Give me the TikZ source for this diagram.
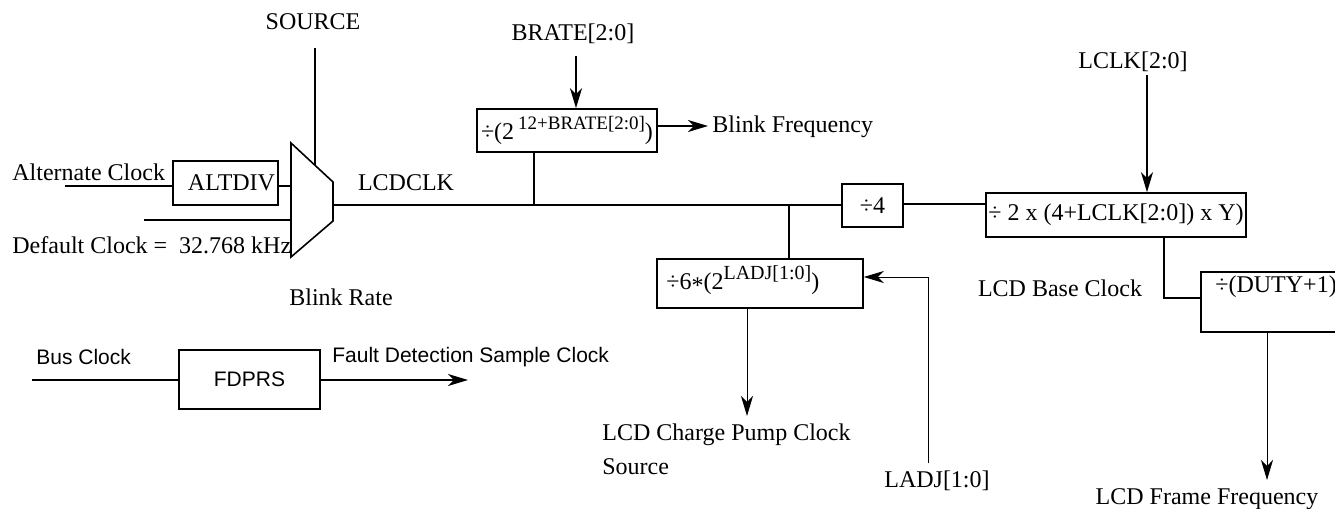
\documentclass[tikz,border=0pt]{standalone}
\usepackage{fontspec}
\setmainfont{Liberation Serif}
\newfontfamily\sansf{Liberation Sans}
\usetikzlibrary{arrows.meta}
\begin{document}
\begin{tikzpicture}[x=0.5pt,y=-0.5pt,
  every node/.style={font=\fontsize{12}{14}\selectfont, inner sep=0pt},
  wire/.style={line width=0.8pt},
  thinwire/.style={line width=0.5pt},
  arr/.style={-{Stealth[length=10pt,width=6pt,inset=3pt]}},
  blk/.style={draw, line width=0.8pt},
  sanstxt/.style={font=\sansf\fontsize{10.5}{12}\selectfont}]
\useasboundingbox (0,0) rectangle (1335,509);

% mux
\draw[wire] (291,143) -- (333,182) -- (333,221) -- (291,257) -- cycle;
\coordinate (muxA) at (291,186);
\coordinate (muxB) at (291,220);
\coordinate (muxO) at (333,205);
\coordinate (muxS) at (315,165);

% boxes
\node[blk, minimum width=52.5pt, minimum height=22pt] (altdiv) at (225.5,183) {\hspace{6pt}ALTDIV};
\node[blk, minimum width=90pt, minimum height=21.5pt] (blink) at (567,130.5)
  {÷(2\,\raisebox{5pt}{\fontsize{9.5}{10}\selectfont 12+BRATE[2:0]})};
\node[blk, minimum width=30.5pt, minimum height=21.5pt] (div4) at (872.5,205.5) {÷4};
\node[blk, minimum width=130pt, minimum height=22pt] (lclk) at (1116,215) {÷ 2 x (4+LCLK[2:0]) x Y)};
\node[blk, minimum width=103pt, minimum height=24.5pt] (ladj) at (760,283.5) {};
\node[anchor=west] (ladjtxt) at (666,280) {÷6\raisebox{-2pt}{*}(2\raisebox{5pt}{\fontsize{10}{11}\selectfont LADJ[1:0]})};
\node[blk, minimum width=72pt, minimum height=30pt] (duty) at (1273,302) {};
\node[anchor=west] (dutytxt) at (1215,287) {÷(DUTY+1)};
\node[blk, minimum width=70.5pt, minimum height=29.5pt, sanstxt] (fdprs) at (249.5,379.5) {FDPRS};

% labels
\node (source) at (313,22) {SOURCE};
\node[anchor=west] (altlbl) at (12,172) {Alternate Clock};
\node[anchor=west] (deflbl) at (12,245) {Default Clock =\ \ 32.768 kHz};
\node (lcdclk) at (406,183) {LCDCLK};
\node (blinkrate) at (341,297) {Blink Rate};
\node (brate) at (573,34) {BRATE[2:0]};
\node[anchor=west] (bfreq) at (712,127) {Blink Frequency};
\node (lclkin) at (1133,62) {LCLK[2:0]};
\node (baseclk) at (1060,288) {LCD Base Clock};
\node[anchor=west] (cp1) at (602,435) {LCD Charge Pump Clock};
\node[anchor=west] (cp2) at (602,467) {Source};
\node (ladjin) at (937,481) {LADJ[1:0]};
\node (frame) at (1207,499) {LCD Frame Frequency};
\node[anchor=west, sanstxt] (buslbl) at (36,357) {Bus Clock};
\node[anchor=west, sanstxt] (fdlbl) at (332,357) {Fault Detection Sample Clock};

% connectors
\coordinate (altin) at (65,186);
\draw[wire] (altin) -- (altin -| altdiv.west);
\draw[wire] (altdiv.east |- muxA) -- (muxA);
\coordinate (defin) at (144,220);
\draw[wire] (defin) -- (muxB);
\coordinate (srctop) at (315,48);
\draw[wire] (srctop) -- (muxS);
\draw[wire] (muxO) -- (muxO -| div4.west);
\coordinate (j1) at (534,205);
\draw[wire] (j1 |- blink.south) -- (j1);
\coordinate (j2) at (789,205);
\draw[wire] (j2) -- (j2 |- ladj.north);
\coordinate (bratetop) at (576,56);
\draw[wire, arr] (bratetop) -- (bratetop |- blink.north);
\draw[wire, arr] (blink.east |- 0,126) -- ([xshift=-2pt]bfreq.west |- 0,126);
\draw[wire] (div4.east |- 0,204) -- (lclk.west |- 0,204);
\coordinate (lclktop) at (1147,75);
\draw[wire, arr] (lclktop) -- (lclktop |- lclk.north);
\coordinate (j3) at (1164,298);
\draw[wire] (j3 |- lclk.south) -- (j3) -- (j3 -| duty.west);
\coordinate (frtip) at (1267,480);
\draw[thinwire, arr] (frtip |- duty.south) -- (frtip);
\coordinate (ladjbot) at (928,463);
\coordinate (ladjc) at (928,277);
\draw[thinwire, arr] (ladjbot) -- (ladjc) -- (ladjc -| ladj.east);
\coordinate (cptip) at (747,416);
\draw[thinwire, arr] (cptip |- ladj.south) -- (cptip);
\coordinate (busin) at (32,380);
\draw[wire] (busin) -- (busin -| fdprs.west);
\coordinate (fdtip) at (468,380);
\draw[wire, arr] (fdtip -| fdprs.east) -- (fdtip);
\end{tikzpicture}
\end{document}
